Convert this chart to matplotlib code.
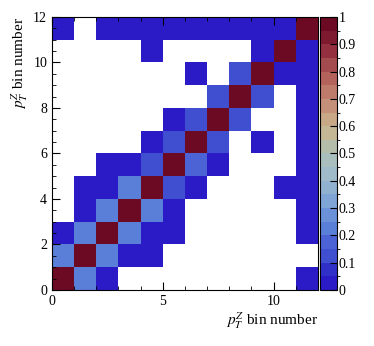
import numpy as np
import matplotlib
matplotlib.use("Agg")
import matplotlib.pyplot as plt
from matplotlib.colors import ListedColormap, BoundaryNorm

plt.rcParams['font.family'] = ['Liberation Serif', 'DejaVu Serif']
plt.rcParams['mathtext.fontset'] = 'stix'

# migration matrix, rows = y bin, columns = x bin (0 means empty)
matrix = [
    [0.97, 0.20, 0.03, 0, 0, 0, 0, 0, 0, 0, 0, 0.03],
    [0.20, 0.97, 0.20, 0.03, 0.03, 0, 0, 0, 0, 0, 0, 0],
    [0.03, 0.20, 0.97, 0.20, 0.03, 0.03, 0, 0, 0, 0, 0, 0.03],
    [0, 0.03, 0.20, 0.97, 0.20, 0.03, 0, 0, 0, 0, 0, 0.03],
    [0, 0.03, 0.03, 0.20, 0.97, 0.14, 0.03, 0, 0, 0, 0.03, 0.03],
    [0, 0, 0.03, 0.03, 0.14, 0.97, 0.16, 0.03, 0, 0, 0, 0.03],
    [0, 0, 0, 0, 0.03, 0.14, 0.97, 0.14, 0, 0.03, 0, 0.03],
    [0, 0, 0, 0, 0, 0.03, 0.14, 0.97, 0.14, 0, 0, 0.03],
    [0, 0, 0, 0, 0, 0, 0, 0.14, 0.97, 0.11, 0, 0.03],
    [0, 0, 0, 0, 0, 0, 0.03, 0, 0.11, 0.97, 0.03, 0.03],
    [0, 0, 0, 0, 0.03, 0, 0, 0, 0, 0.03, 0.97, 0.03],
    [0.03, 0, 0.03, 0.03, 0.03, 0.03, 0.03, 0.03, 0.03, 0.03, 0.03, 0.97],
]
bin_edges = np.arange(13)
cbar_ticks = [0, 0.1, 0.2, 0.3, 0.4, 0.5, 0.6, 0.7, 0.8, 0.9, 1]
cbar_labels = ["0", "0.1", "0.2", "0.3", "0.4", "0.5", "0.6", "0.7", "0.8", "0.9", "1"]

# 20 level palette
palette = ["#2a1bc6", "#3030c8", "#3f4fd0", "#4b63d4", "#5a7fd8",
           "#6b91d9", "#7fa4d6", "#90b1d0", "#9fbac8", "#a9bfbe",
           "#b3bdaa", "#c3b796", "#c9a888", "#c5907a", "#be7a6a",
           "#b3635c", "#a44b4f", "#932f3f", "#7e1a30", "#6b0a22"]
cmap = ListedColormap(palette)
cmap.set_bad("white")
norm = BoundaryNorm(np.linspace(0, 1, 21), cmap.N)

z = np.ma.masked_equal(np.array(matrix), 0)

fig = plt.figure(figsize=(3.74, 3.46), dpi=100)
ax = fig.add_axes([0.139, 0.162, 0.711, 0.789])
mesh = ax.pcolormesh(bin_edges, bin_edges, z, cmap=cmap, norm=norm)
ax.set_xlim(0, 12)
ax.set_ylim(0, 12)
ax.set_xticks([0, 5, 10])
ax.set_xticks(np.arange(0, 13, 1), minor=True)
ax.set_yticks(np.arange(0, 13, 2))
ax.set_yticks(np.arange(0, 12.5, 0.5), minor=True)
ax.tick_params(which='both', direction='in', top=True, right=False, labelsize=10)
ax.tick_params(which='major', length=6)
ax.tick_params(which='minor', length=3)
ax.set_xlabel("$p_{T}^{Z}$ bin number", fontsize=11, loc='right', labelpad=2)
ax.set_ylabel("$p_{T}^{Z}$ bin number", fontsize=11, loc='top', labelpad=2)

cax = fig.add_axes([0.856, 0.162, 0.045, 0.789])
cb = fig.colorbar(mesh, cax=cax, ticks=cbar_ticks)
cb.ax.set_yticklabels(cbar_labels)
cb.ax.tick_params(direction='in', length=5, labelsize=10, pad=1)
cb.outline.set_linewidth(0.8)

fig.savefig("out.png", dpi=100)
